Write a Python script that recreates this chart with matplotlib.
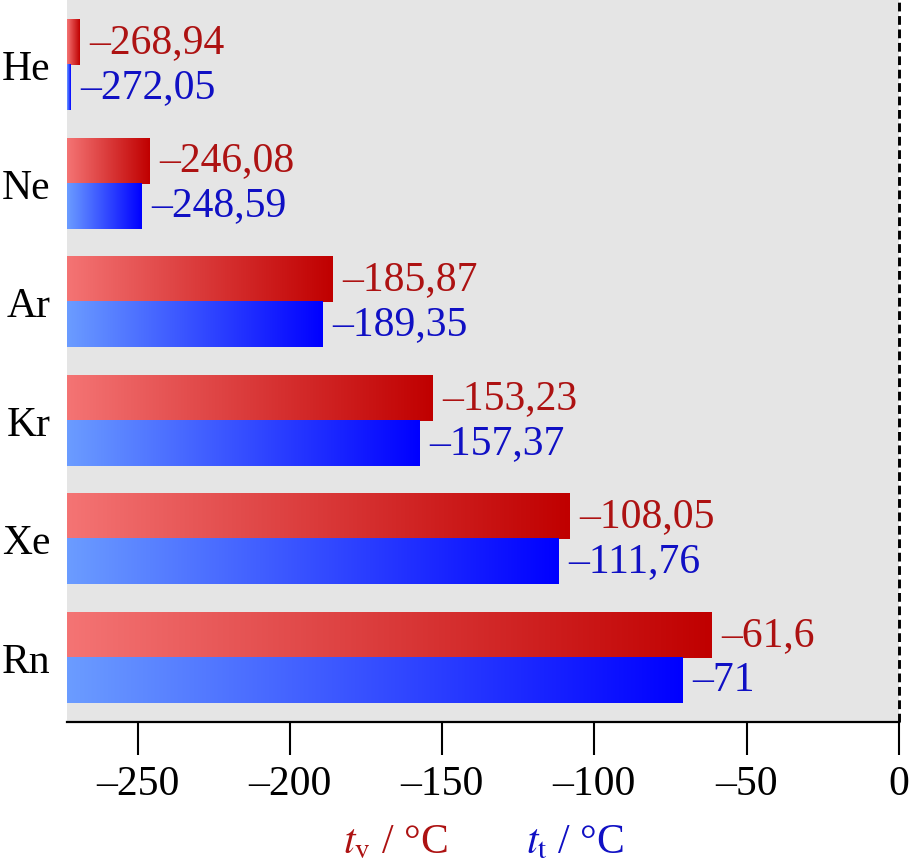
import matplotlib
matplotlib.use("Agg")
import matplotlib.pyplot as plt
import numpy as np
from matplotlib.colors import LinearSegmentedColormap

plt.rcParams['font.family'] = ['Liberation Serif', 'DejaVu Serif']
plt.rcParams['mathtext.fontset'] = 'stix'

# donnees : gaz nobles, temperatures de vaporisation et du point triple
elements = ["He", "Ne", "Ar", "Kr", "Xe", "Rn"]
t_v = [-268.94, -246.08, -185.87, -153.23, -108.05, -61.6]
t_t = [-272.05, -248.59, -189.35, -157.37, -111.76, -71]
zero_abs = -273.15
xticks = [-250, -200, -150, -100, -50, 0]

red_txt = "#ad1212"
blue_txt = "#1010c4"
cmap_red = LinearSegmentedColormap.from_list("r", ["#f47474", "#c00000"])
cmap_blue = LinearSegmentedColormap.from_list("b", ["#6b9cff", "#0000ff"])

def fmt(v):
    return f"{v:g}".replace("-", "\u2013").replace(".", ",")

fig = plt.figure(figsize=(9.09, 8.65), dpi=100)
ax = fig.add_axes([67/909, 1-722/865, (899-67)/909, 722/865])
ax.set_facecolor("#e5e5e5")

y = np.arange(len(elements))
h = 0.38
bars_v = ax.barh(y - h/2, np.array(t_v) - zero_abs, left=zero_abs, height=h,
                 facecolor="none", edgecolor="none")
bars_t = ax.barh(y + h/2, np.array(t_t) - zero_abs, left=zero_abs, height=h,
                 facecolor="none", edgecolor="none")

grad = np.linspace(0, 1, 256).reshape(1, -1)
for bars, cmap, vals, col in [(bars_v, cmap_red, t_v, red_txt),
                              (bars_t, cmap_blue, t_t, blue_txt)]:
    for p, v in zip(bars, vals):
        x0, y0 = p.get_x(), p.get_y()
        w, hh = p.get_width(), p.get_height()
        ax.imshow(grad, cmap=cmap, extent=[x0, x0 + w, y0 + hh, y0],
                  aspect="auto", zorder=2, interpolation="bilinear")
        ax.annotate(fmt(v), (v, y0 + hh/2), xytext=(7, 0),
                    textcoords="offset points", va="center", ha="left",
                    color=col, fontsize=30)

ax.axvline(0, color="black", linestyle=(0, (3, 1.6)), linewidth=2.1,
           zorder=3, clip_on=False)

ax.set_xlim(zero_abs, 0)
ax.set_ylim(len(elements) - 1 + 0.54, -0.55)
ax.set_xticks(xticks)
ax.set_xticklabels([fmt(t) for t in xticks], fontsize=30)
ax.set_yticks(y)
ax.set_yticklabels(elements, fontsize=30)
ax.tick_params(axis="x", direction="out", length=24, width=1.5, pad=7)
ax.tick_params(axis="y", length=0, pad=12)

for s in ["top", "right", "left"]:
    ax.spines[s].set_visible(False)
ax.spines["bottom"].set_linewidth(1.6)

fig.text(395/909, 1-843/865, r"$t_{\mathrm{v}}$ / °C", color=red_txt,
         fontsize=30, ha="center", va="center")
fig.text(575/909, 1-843/865, r"$t_{\mathrm{t}}$ / °C", color=blue_txt,
         fontsize=30, ha="center", va="center")

plt.savefig("out.png", dpi=100)
